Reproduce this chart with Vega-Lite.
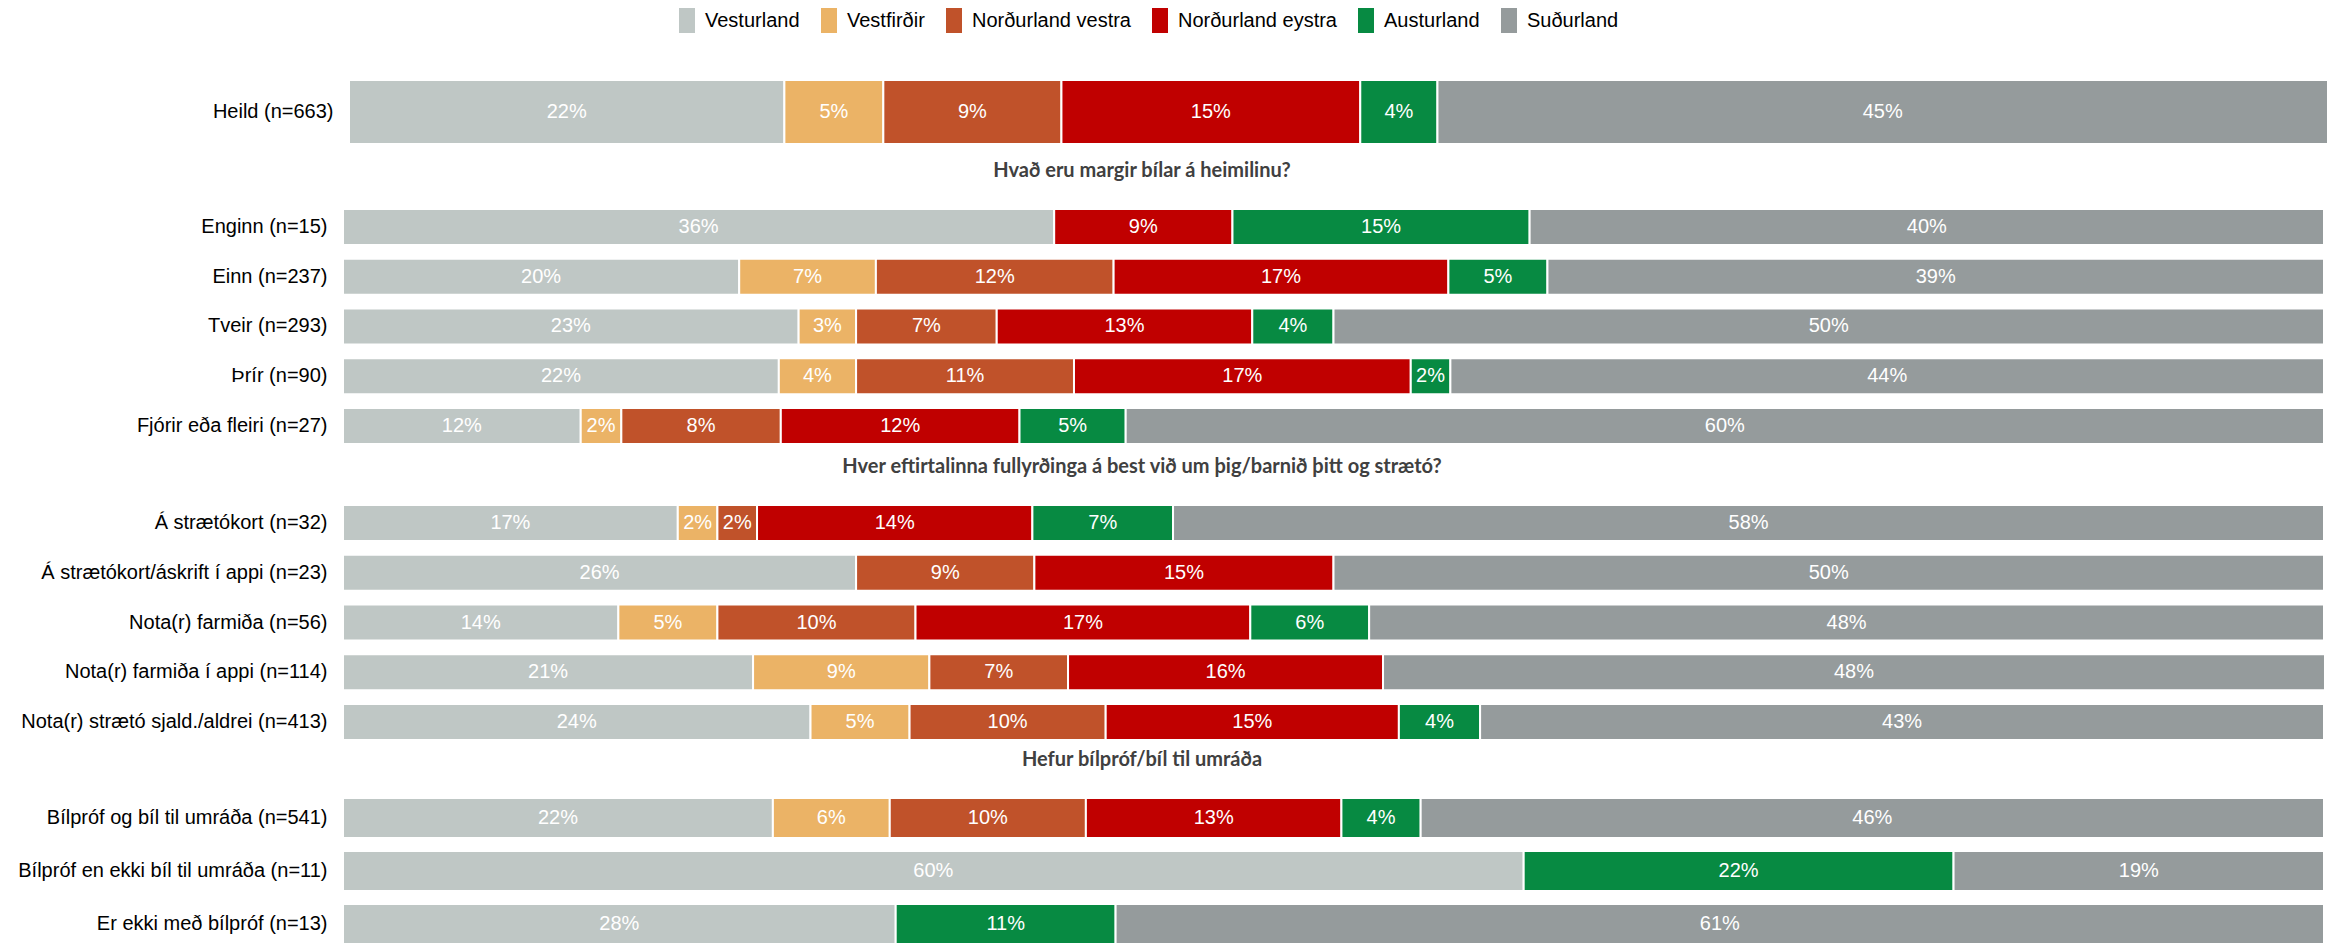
{
  "$schema": "https://vega.github.io/schema/vega-lite/v6.json",
  "padding": {"left": 13, "top": 8, "right": 0, "bottom": 0},
  "background": "white",
  "bounds": "flush",
  "spacing": 58,
  "config": {
    "view": {"stroke": null},
    "text": {"font": "Liberation Sans"},
    "axis": {"labelFont": "Liberation Sans"}
  },
  "datasets": {
    "heild": [
      {"row": "Heild (n=663)", "region": "Vesturland", "share": 0.220},
      {"row": "Heild (n=663)", "region": "Vestfirðir", "share": 0.050},
      {"row": "Heild (n=663)", "region": "Norðurland vestra", "share": 0.090},
      {"row": "Heild (n=663)", "region": "Norðurland eystra", "share": 0.151},
      {"row": "Heild (n=663)", "region": "Austurland", "share": 0.039},
      {"row": "Heild (n=663)", "region": "Suðurland", "share": 0.450}
    ],
    "bilar": [
      {"row": "Enginn (n=15)", "region": "Vesturland", "share": 0.359},
      {"row": "Enginn (n=15)", "region": "Norðurland eystra", "share": 0.090},
      {"row": "Enginn (n=15)", "region": "Austurland", "share": 0.150},
      {"row": "Enginn (n=15)", "region": "Suðurland", "share": 0.401},
      {"row": "Einn (n=237)", "region": "Vesturland", "share": 0.200},
      {"row": "Einn (n=237)", "region": "Vestfirðir", "share": 0.069},
      {"row": "Einn (n=237)", "region": "Norðurland vestra", "share": 0.120},
      {"row": "Einn (n=237)", "region": "Norðurland eystra", "share": 0.169},
      {"row": "Einn (n=237)", "region": "Austurland", "share": 0.050},
      {"row": "Einn (n=237)", "region": "Suðurland", "share": 0.392},
      {"row": "Tveir (n=293)", "region": "Vesturland", "share": 0.230},
      {"row": "Tveir (n=293)", "region": "Vestfirðir", "share": 0.029},
      {"row": "Tveir (n=293)", "region": "Norðurland vestra", "share": 0.071},
      {"row": "Tveir (n=293)", "region": "Norðurland eystra", "share": 0.129},
      {"row": "Tveir (n=293)", "region": "Austurland", "share": 0.041},
      {"row": "Tveir (n=293)", "region": "Suðurland", "share": 0.500},
      {"row": "Þrír (n=90)", "region": "Vesturland", "share": 0.220},
      {"row": "Þrír (n=90)", "region": "Vestfirðir", "share": 0.039},
      {"row": "Þrír (n=90)", "region": "Norðurland vestra", "share": 0.110},
      {"row": "Þrír (n=90)", "region": "Norðurland eystra", "share": 0.170},
      {"row": "Þrír (n=90)", "region": "Austurland", "share": 0.020},
      {"row": "Þrír (n=90)", "region": "Suðurland", "share": 0.441},
      {"row": "Fjórir eða fleiri (n=27)", "region": "Vesturland", "share": 0.120},
      {"row": "Fjórir eða fleiri (n=27)", "region": "Vestfirðir", "share": 0.0205},
      {"row": "Fjórir eða fleiri (n=27)", "region": "Norðurland vestra", "share": 0.0805},
      {"row": "Fjórir eða fleiri (n=27)", "region": "Norðurland eystra", "share": 0.1205},
      {"row": "Fjórir eða fleiri (n=27)", "region": "Austurland", "share": 0.0536},
      {"row": "Fjórir eða fleiri (n=27)", "region": "Suðurland", "share": 0.6049}
    ],
    "straeto": [
      {"row": "Á strætókort (n=32)", "region": "Vesturland", "share": 0.169},
      {"row": "Á strætókort (n=32)", "region": "Vestfirðir", "share": 0.020},
      {"row": "Á strætókort (n=32)", "region": "Norðurland vestra", "share": 0.020},
      {"row": "Á strætókort (n=32)", "region": "Norðurland eystra", "share": 0.139},
      {"row": "Á strætókort (n=32)", "region": "Austurland", "share": 0.071},
      {"row": "Á strætókort (n=32)", "region": "Suðurland", "share": 0.581},
      {"row": "Á strætókort/áskrift í appi (n=23)", "region": "Vesturland", "share": 0.259},
      {"row": "Á strætókort/áskrift í appi (n=23)", "region": "Norðurland vestra", "share": 0.090},
      {"row": "Á strætókort/áskrift í appi (n=23)", "region": "Norðurland eystra", "share": 0.151},
      {"row": "Á strætókort/áskrift í appi (n=23)", "region": "Suðurland", "share": 0.500},
      {"row": "Nota(r) farmiða (n=56)", "region": "Vesturland", "share": 0.139},
      {"row": "Nota(r) farmiða (n=56)", "region": "Vestfirðir", "share": 0.050},
      {"row": "Nota(r) farmiða (n=56)", "region": "Norðurland vestra", "share": 0.100},
      {"row": "Nota(r) farmiða (n=56)", "region": "Norðurland eystra", "share": 0.169},
      {"row": "Nota(r) farmiða (n=56)", "region": "Austurland", "share": 0.060},
      {"row": "Nota(r) farmiða (n=56)", "region": "Suðurland", "share": 0.482},
      {"row": "Nota(r) farmiða í appi (n=114)", "region": "Vesturland", "share": 0.207},
      {"row": "Nota(r) farmiða í appi (n=114)", "region": "Vestfirðir", "share": 0.089},
      {"row": "Nota(r) farmiða í appi (n=114)", "region": "Norðurland vestra", "share": 0.070},
      {"row": "Nota(r) farmiða í appi (n=114)", "region": "Norðurland eystra", "share": 0.159},
      {"row": "Nota(r) farmiða í appi (n=114)", "region": "Suðurland", "share": 0.4755},
      {"row": "Nota(r) strætó sjald./aldrei (n=413)", "region": "Vesturland", "share": 0.236},
      {"row": "Nota(r) strætó sjald./aldrei (n=413)", "region": "Vestfirðir", "share": 0.050},
      {"row": "Nota(r) strætó sjald./aldrei (n=413)", "region": "Norðurland vestra", "share": 0.099},
      {"row": "Nota(r) strætó sjald./aldrei (n=413)", "region": "Norðurland eystra", "share": 0.148},
      {"row": "Nota(r) strætó sjald./aldrei (n=413)", "region": "Austurland", "share": 0.041},
      {"row": "Nota(r) strætó sjald./aldrei (n=413)", "region": "Suðurland", "share": 0.426}
    ],
    "bilprof": [
      {"row": "Bílpróf og bíl til umráða (n=541)", "region": "Vesturland", "share": 0.217},
      {"row": "Bílpróf og bíl til umráða (n=541)", "region": "Vestfirðir", "share": 0.059},
      {"row": "Bílpróf og bíl til umráða (n=541)", "region": "Norðurland vestra", "share": 0.099},
      {"row": "Bílpróf og bíl til umráða (n=541)", "region": "Norðurland eystra", "share": 0.129},
      {"row": "Bílpróf og bíl til umráða (n=541)", "region": "Austurland", "share": 0.040},
      {"row": "Bílpróf og bíl til umráða (n=541)", "region": "Suðurland", "share": 0.456},
      {"row": "Bílpróf en ekki bíl til umráða (n=11)", "region": "Vesturland", "share": 0.596},
      {"row": "Bílpróf en ekki bíl til umráða (n=11)", "region": "Austurland", "share": 0.217},
      {"row": "Bílpróf en ekki bíl til umráða (n=11)", "region": "Suðurland", "share": 0.187},
      {"row": "Er ekki með bílpróf (n=13)", "region": "Vesturland", "share": 0.279},
      {"row": "Er ekki með bílpróf (n=13)", "region": "Austurland", "share": 0.111},
      {"row": "Er ekki með bílpróf (n=13)", "region": "Suðurland", "share": 0.610}
    ]
  },
  "vconcat": [
    {
      "data": {"name": "heild"},
      "width": 1985,
      "height": 71,
      "transform": [
        {"calculate": "indexof(['Vesturland','Vestfirðir','Norðurland vestra','Norðurland eystra','Austurland','Suðurland'], datum.region)", "as": "k"},
        {"stack": "share", "groupby": ["row"], "sort": [{"field": "k", "order": "ascending"}], "as": ["x0", "x1"]},
        {"calculate": "(datum.x0 + datum.x1) / 2", "as": "mid"}
      ],
      "encoding": {
        "y": {"field": "row", "type": "nominal", "title": null,
              "scale": {"paddingInner": 0, "paddingOuter": 0.0547, "align": 0},
              "axis": {"ticks": false, "domain": false, "labelFontSize": 20, "labelColor": "#000000", "labelPadding": 10, "labelLimit": 400, "minExtent": 330, "maxExtent": 330}}
      },
      "layer": [
        {
          "mark": {"type": "bar", "stroke": "white", "strokeWidth": 2},
          "encoding": {
            "x": {"field": "x0", "type": "quantitative", "scale": {"domain": [0, 1], "range": [6, 1985], "nice": false}, "axis": null},
            "x2": {"field": "x1"},
            "color": {"field": "region", "type": "nominal",
              "scale": {"domain": ["Vesturland", "Vestfirðir", "Norðurland vestra", "Norðurland eystra", "Austurland", "Suðurland"],
                        "range": ["#BFC7C5", "#EBB366", "#C0522A", "#C00000", "#078A42", "#959B9C"]},
              "legend": {"title": null, "orient": "none", "legendX": 331.5, "legendY": -72, "direction": "horizontal",
                         "symbolType": "M-0.64,-1H0.64V1H-0.64Z", "symbolSize": 625, "symbolStrokeWidth": 0, "symbolOpacity": 1,
                         "labelFont": "Liberation Sans", "labelFontSize": 20, "labelColor": "#000000", "labelOffset": 5.5,
                         "columnPadding": 16, "padding": 0, "labelLimit": 300}}
          }
        },
        {
          "mark": {"type": "text", "color": "white", "fontSize": 20, "baseline": "middle", "align": "center"},
          "encoding": {
            "x": {"field": "mid", "type": "quantitative"},
            "text": {"field": "share", "type": "quantitative", "format": ".0%"}
          }
        }
      ]
    },
    {
      "data": {"name": "bilar"},
      "width": 1981,
      "height": 238,
      "title": {"text": "Hvað eru margir bílar á heimilinu?", "anchor": "middle", "frame": "group", "dx": -191.5, "offset": 27, "font": "Lato", "fontSize": 20, "fontWeight": "bold", "color": "#404040"},
      "transform": [
        {"calculate": "indexof(['Vesturland','Vestfirðir','Norðurland vestra','Norðurland eystra','Austurland','Suðurland'], datum.region)", "as": "k"},
        {"stack": "share", "groupby": ["row"], "sort": [{"field": "k", "order": "ascending"}], "as": ["x0", "x1"]},
        {"calculate": "(datum.x0 + datum.x1) / 2", "as": "mid"}
      ],
      "encoding": {
        "y": {"field": "row", "type": "nominal", "title": null,
              "sort": ["Enginn (n=15)", "Einn (n=237)", "Tveir (n=293)", "Þrír (n=90)", "Fjórir eða fleiri (n=27)"],
              "scale": {"paddingInner": 0.2764, "paddingOuter": 0.0302, "align": 0},
              "axis": {"ticks": false, "domain": false, "labelFontSize": 20, "labelColor": "#000000", "labelPadding": 16, "labelLimit": 400, "minExtent": 330, "maxExtent": 330}}
      },
      "layer": [
        {
          "mark": {"type": "bar", "stroke": "white", "strokeWidth": 2},
          "encoding": {
            "x": {"field": "x0", "type": "quantitative", "scale": {"domain": [0, 1], "nice": false}, "axis": null},
            "x2": {"field": "x1"},
            "color": {"field": "region", "type": "nominal",
              "scale": {"domain": ["Vesturland", "Vestfirðir", "Norðurland vestra", "Norðurland eystra", "Austurland", "Suðurland"],
                        "range": ["#BFC7C5", "#EBB366", "#C0522A", "#C00000", "#078A42", "#959B9C"]},
              "legend": {"title": null, "orient": "none", "legendX": 331.5, "legendY": -72, "direction": "horizontal",
                         "symbolType": "M-0.64,-1H0.64V1H-0.64Z", "symbolSize": 625, "symbolStrokeWidth": 0, "symbolOpacity": 1,
                         "labelFont": "Liberation Sans", "labelFontSize": 20, "labelColor": "#000000", "labelOffset": 5.5,
                         "columnPadding": 16, "padding": 0, "labelLimit": 300}}
          }
        },
        {
          "mark": {"type": "text", "color": "white", "fontSize": 20, "baseline": "middle", "align": "center"},
          "encoding": {
            "x": {"field": "mid", "type": "quantitative"},
            "text": {"field": "share", "type": "quantitative", "format": ".0%"}
          }
        }
      ]
    },
    {
      "data": {"name": "straeto"},
      "width": 1981,
      "height": 235,
      "title": {"text": "Hver eftirtalinna fullyrðinga á best við um þig/barnið þitt og strætó?", "anchor": "middle", "frame": "group", "dx": -191.5, "offset": 27, "font": "Lato", "fontSize": 20, "fontWeight": "bold", "color": "#404040"},
      "transform": [
        {"calculate": "indexof(['Vesturland','Vestfirðir','Norðurland vestra','Norðurland eystra','Austurland','Suðurland'], datum.region)", "as": "k"},
        {"stack": "share", "groupby": ["row"], "sort": [{"field": "k", "order": "ascending"}], "as": ["x0", "x1"]},
        {"calculate": "(datum.x0 + datum.x1) / 2", "as": "mid"}
      ],
      "encoding": {
        "y": {"field": "row", "type": "nominal", "title": null,
              "sort": ["Á strætókort (n=32)", "Á strætókort/áskrift í appi (n=23)", "Nota(r) farmiða (n=56)", "Nota(r) farmiða í appi (n=114)", "Nota(r) strætó sjald./aldrei (n=413)"],
              "scale": {"paddingInner": 0.2764, "paddingOuter": 0, "align": 0},
              "axis": {"ticks": false, "domain": false, "labelFontSize": 20, "labelColor": "#000000", "labelPadding": 16, "labelLimit": 400, "minExtent": 330, "maxExtent": 330}}
      },
      "layer": [
        {
          "mark": {"type": "bar", "stroke": "white", "strokeWidth": 2},
          "encoding": {
            "x": {"field": "x0", "type": "quantitative", "scale": {"domain": [0, 1], "nice": false}, "axis": null},
            "x2": {"field": "x1"},
            "color": {"field": "region", "type": "nominal",
              "scale": {"domain": ["Vesturland", "Vestfirðir", "Norðurland vestra", "Norðurland eystra", "Austurland", "Suðurland"],
                        "range": ["#BFC7C5", "#EBB366", "#C0522A", "#C00000", "#078A42", "#959B9C"]},
              "legend": {"title": null, "orient": "none", "legendX": 331.5, "legendY": -72, "direction": "horizontal",
                         "symbolType": "M-0.64,-1H0.64V1H-0.64Z", "symbolSize": 625, "symbolStrokeWidth": 0, "symbolOpacity": 1,
                         "labelFont": "Liberation Sans", "labelFontSize": 20, "labelColor": "#000000", "labelOffset": 5.5,
                         "columnPadding": 16, "padding": 0, "labelLimit": 300}}
          }
        },
        {
          "mark": {"type": "text", "color": "white", "fontSize": 20, "baseline": "middle", "align": "center"},
          "encoding": {
            "x": {"field": "mid", "type": "quantitative"},
            "text": {"field": "share", "type": "quantitative", "format": ".0%"}
          }
        }
      ]
    },
    {
      "data": {"name": "bilprof"},
      "width": 1981,
      "height": 146,
      "title": {"text": "Hefur bílpróf/bíl til umráða", "anchor": "middle", "frame": "group", "dx": -191.5, "offset": 27, "font": "Lato", "fontSize": 20, "fontWeight": "bold", "color": "#404040"},
      "transform": [
        {"calculate": "indexof(['Vesturland','Vestfirðir','Norðurland vestra','Norðurland eystra','Austurland','Suðurland'], datum.region)", "as": "k"},
        {"stack": "share", "groupby": ["row"], "sort": [{"field": "k", "order": "ascending"}], "as": ["x0", "x1"]},
        {"calculate": "(datum.x0 + datum.x1) / 2", "as": "mid"}
      ],
      "encoding": {
        "y": {"field": "row", "type": "nominal", "title": null,
              "sort": ["Bílpróf og bíl til umráða (n=541)", "Bílpróf en ekki bíl til umráða (n=11)", "Er ekki með bílpróf (n=13)"],
              "scale": {"paddingInner": 0.245, "paddingOuter": 0, "align": 0},
              "axis": {"ticks": false, "domain": false, "labelFontSize": 20, "labelColor": "#000000", "labelPadding": 16, "labelLimit": 400, "minExtent": 330, "maxExtent": 330}}
      },
      "layer": [
        {
          "mark": {"type": "bar", "stroke": "white", "strokeWidth": 2},
          "encoding": {
            "x": {"field": "x0", "type": "quantitative", "scale": {"domain": [0, 1], "nice": false}, "axis": null},
            "x2": {"field": "x1"},
            "color": {"field": "region", "type": "nominal",
              "scale": {"domain": ["Vesturland", "Vestfirðir", "Norðurland vestra", "Norðurland eystra", "Austurland", "Suðurland"],
                        "range": ["#BFC7C5", "#EBB366", "#C0522A", "#C00000", "#078A42", "#959B9C"]},
              "legend": {"title": null, "orient": "none", "legendX": 331.5, "legendY": -72, "direction": "horizontal",
                         "symbolType": "M-0.64,-1H0.64V1H-0.64Z", "symbolSize": 625, "symbolStrokeWidth": 0, "symbolOpacity": 1,
                         "labelFont": "Liberation Sans", "labelFontSize": 20, "labelColor": "#000000", "labelOffset": 5.5,
                         "columnPadding": 16, "padding": 0, "labelLimit": 300}}
          }
        },
        {
          "mark": {"type": "text", "color": "white", "fontSize": 20, "baseline": "middle", "align": "center"},
          "encoding": {
            "x": {"field": "mid", "type": "quantitative"},
            "text": {"field": "share", "type": "quantitative", "format": ".0%"}
          }
        }
      ]
    }
  ]
}
